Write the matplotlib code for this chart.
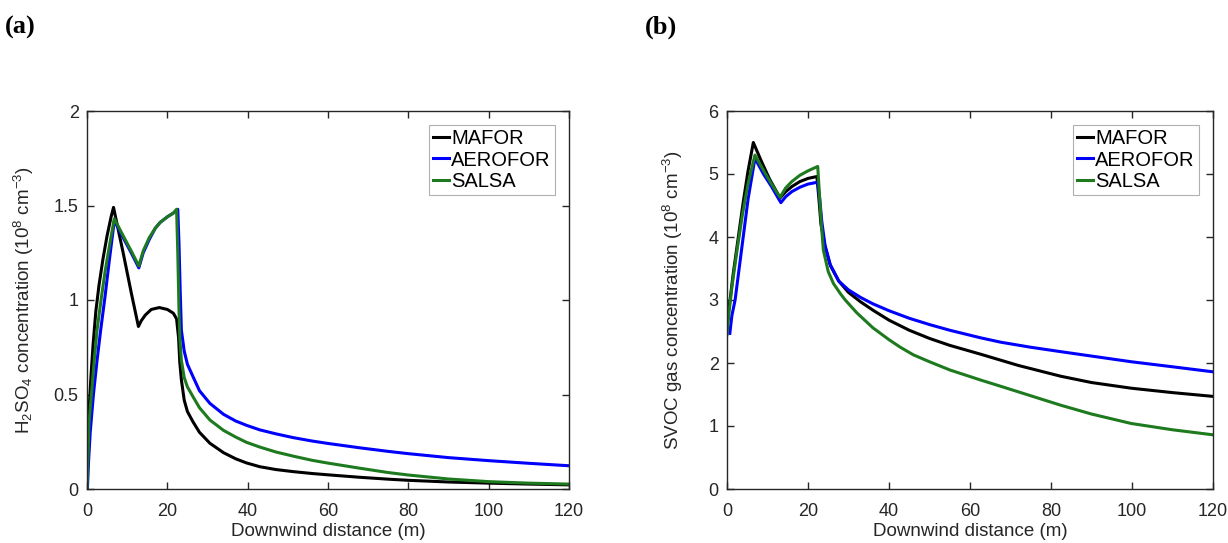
import numpy as np
import matplotlib
matplotlib.use("Agg")
import matplotlib.pyplot as plt

plt.rcParams['font.family'] = ['Liberation Sans', 'DejaVu Sans']
plt.rcParams['mathtext.fontset'] = 'custom'
plt.rcParams['mathtext.rm'] = 'Liberation Sans'
plt.rcParams['mathtext.it'] = 'Liberation Sans:italic'

# (a) H2SO4 concentration (1e8 cm-3) vs downwind distance (m)
h2so4_mafor_x = [0, 0.3, 0.6, 1.0, 1.5, 2.2, 3, 4, 5, 6, 6.6, 9, 11, 12.8, 13.5, 14.5, 16, 18, 20,
                 21.5, 22.3, 22.8, 23.1, 23.5, 24.2, 25, 26.4, 28, 30.6, 34, 37, 39.7, 43, 47, 51.3,
                 56, 60, 67.9, 75, 80, 90, 100, 110, 120]
h2so4_mafor_y = [0, 0.25, 0.45, 0.6, 0.76, 0.94, 1.08, 1.22, 1.34, 1.44, 1.49, 1.25, 1.04, 0.86, 0.89,
                 0.92, 0.95, 0.96, 0.95, 0.93, 0.90, 0.80, 0.67, 0.577, 0.47, 0.41, 0.355, 0.30,
                 0.242, 0.192, 0.16, 0.138, 0.118, 0.103, 0.092, 0.082, 0.075, 0.062, 0.052, 0.046,
                 0.037, 0.031, 0.026, 0.022]

h2so4_aerofor_x = [0.1, 0.4, 0.8, 1.6, 2.5, 3.4, 4.5, 5.5, 6.8, 9, 11, 12.9, 14, 15.5, 17, 18.2, 20,
                   21.5, 22.6, 22.9, 23.2, 23.5, 24.2, 25, 26.4, 28, 30.6, 34, 37, 39.7, 43, 47, 51.3,
                   56, 60, 67.9, 75, 80, 90, 100, 110, 120]
h2so4_aerofor_y = [0, 0.15, 0.3, 0.5, 0.68, 0.84, 1.02, 1.2, 1.42, 1.33, 1.25, 1.17, 1.25, 1.32,
                   1.38, 1.41, 1.44, 1.46, 1.48, 1.3, 1.05, 0.84, 0.73, 0.66, 0.594, 0.52, 0.453,
                   0.395, 0.36, 0.337, 0.313, 0.292, 0.272, 0.254, 0.241, 0.218, 0.199, 0.187,
                   0.166, 0.15, 0.136, 0.123]

h2so4_salsa_x = [0, 0.5, 1.1, 1.8, 2.5, 3.5, 4.5, 5.7, 6.8, 9, 11, 12.9, 14, 15.5, 17, 18.2, 20,
                 21.5, 22.3, 22.6, 22.9, 23.1, 23.5, 24.2, 25, 26.4, 28, 30.6, 34, 37, 39.7, 43, 47,
                 51.3, 56, 60, 67.9, 75, 80, 90, 100, 110, 120]
h2so4_salsa_y = [0, 0.35, 0.5, 0.68, 0.84, 1.0, 1.15, 1.3, 1.43, 1.34, 1.26, 1.18, 1.26, 1.33,
                 1.38, 1.41, 1.44, 1.46, 1.48, 1.25, 0.95, 0.8, 0.68, 0.59, 0.54, 0.488, 0.43,
                 0.365, 0.31, 0.275, 0.247, 0.222, 0.196, 0.174, 0.152, 0.137, 0.11, 0.087, 0.074,
                 0.053, 0.039, 0.031, 0.026]

# (b) SVOC gas concentration (1e8 cm-3)
svoc_mafor_x = [0, 0.75, 1.5, 2.8, 4, 5.2, 6.5, 8.5, 10.5, 13.1, 14.5, 16, 18, 20, 22.2, 22.7, 23.2,
                24.2, 25.5, 27.6, 30, 33, 36, 40, 45, 50, 55, 62.6, 72, 82.4, 90, 99.8, 110, 120]
svoc_mafor_y = [2.68, 3.0, 3.4, 4.0, 4.55, 5.05, 5.5, 5.2, 4.92, 4.62, 4.72, 4.8, 4.88, 4.93, 4.96,
                4.6, 4.2, 3.85, 3.55, 3.3, 3.12, 2.97, 2.84, 2.68, 2.52, 2.39, 2.28, 2.14, 1.96, 1.79,
                1.69, 1.60, 1.53, 1.47]

svoc_aerofor_x = [0.7, 1.2, 2.0, 3, 4.0, 5.2, 6.9, 9, 11, 13.3, 14.5, 16, 18, 20, 22.4, 22.9, 23.4,
                  24.2, 25.5, 27.6, 30, 33, 36, 40, 45, 50, 55, 62.6, 67.6, 75, 82.4, 90, 99.8, 110, 120]
svoc_aerofor_y = [2.47, 2.75, 3.0, 3.5, 4.0, 4.6, 5.25, 5.0, 4.8, 4.545, 4.64, 4.72, 4.79, 4.84, 4.87,
                  4.6, 4.25, 3.87, 3.56, 3.3, 3.16, 3.04, 2.94, 2.83, 2.71, 2.61, 2.52, 2.40, 2.33,
                  2.25, 2.18, 2.11, 2.02, 1.94, 1.86]

svoc_salsa_x = [0, 0.5, 1.2, 2.5, 3.8, 5.2, 6.9, 9, 11, 13.1, 14.5, 16, 18, 20, 22.4, 22.8, 23.3,
                23.8, 25, 26.3, 28, 29.2, 32, 36, 40, 42.8, 46, 50, 55, 62.6, 67.6, 75, 82.4, 90,
                99.8, 110, 120]
svoc_salsa_y = [2.45, 2.8, 3.2, 3.8, 4.35, 4.85, 5.3, 5.06, 4.84, 4.63, 4.78, 4.88, 4.98, 5.05, 5.12,
                4.7, 4.2, 3.79, 3.45, 3.26, 3.1, 3.0, 2.8, 2.56, 2.37, 2.25, 2.13, 2.02, 1.89, 1.73,
                1.63, 1.48, 1.33, 1.19, 1.04, 0.94, 0.86]

model_names = ['MAFOR', 'AEROFOR', 'SALSA']
model_colors = ['black', '#0000ff', '#1e7a1e']

fig = plt.figure(figsize=(12.28, 5.43), dpi=100)
ax1 = fig.add_axes([87/1228, 54/543, 482/1228, 378/543])
ax2 = fig.add_axes([727/1228, 54/543, 486/1228, 378/543])

panels = [
    (ax1, [(h2so4_mafor_x, h2so4_mafor_y), (h2so4_aerofor_x, h2so4_aerofor_y), (h2so4_salsa_x, h2so4_salsa_y)],
     [0, 2], [0, 0.5, 1, 1.5, 2], ['0', '0.5', '1', '1.5', '2'],
     r'H$_2$SO$_4$ concentration (10$^8$ cm$^{-3}$)', '(a)', 13),
    (ax2, [(svoc_mafor_x, svoc_mafor_y), (svoc_aerofor_x, svoc_aerofor_y), (svoc_salsa_x, svoc_salsa_y)],
     [0, 6], [0, 1, 2, 3, 4, 5, 6], ['0', '1', '2', '3', '4', '5', '6'],
     r'SVOC gas concentration (10$^8$ cm$^{-3}$)', '(b)', 17),
]

for ax, series, ylim, yticks, yticklabels, ylabel, tag, lp in panels:
    for (x, y), name, c in zip(series, model_names, model_colors):
        ax.plot(x, y, color=c, lw=2.2, label=name)
    ax.set_xlim(0, 120)
    ax.set_ylim(*ylim)
    ax.set_xticks([0, 20, 40, 60, 80, 100, 120])
    ax.set_yticks(yticks)
    ax.set_yticklabels(yticklabels)
    ax.tick_params(direction='in', top=True, right=True, length=5, width=1,
                   labelsize=13, colors='#262626', pad=6)
    ax.tick_params(axis='x', pad=10)
    for s in ax.spines.values():
        s.set_color('#262626')
        s.set_linewidth(1)
    ax.set_xlabel('Downwind distance (m)', fontsize=13.5, color='#262626', labelpad=2)
    ax.set_ylabel(ylabel, fontsize=13.5, color='#262626', labelpad=lp)
    leg = ax.legend(loc='upper right', fontsize=14.5, handlelength=0.8, handletextpad=0.1,
                    borderpad=0.2, labelspacing=0.12, borderaxespad=0.7, fancybox=False,
                    framealpha=1)
    leg.get_frame().set_edgecolor('#b0b0b0')
    leg.get_frame().set_linewidth(0.8)
    pos = ax.get_position()
    fig.text(pos.x0 - 82/1228, 0.95, tag, fontsize=19, fontweight='bold',
             family='Liberation Serif', va='center', ha='left')

fig.savefig('out.png', dpi=100)
